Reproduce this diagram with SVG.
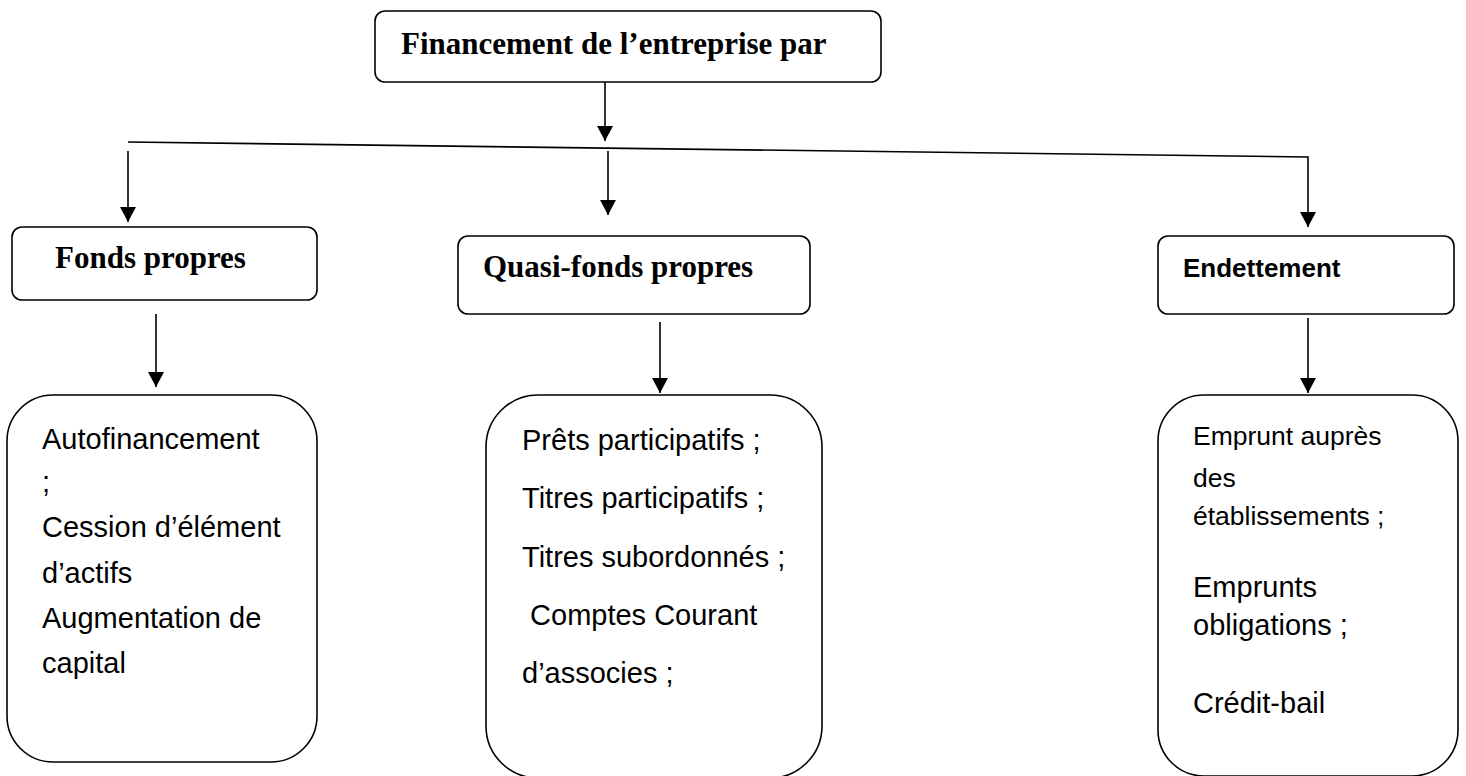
<svg xmlns="http://www.w3.org/2000/svg" width="1466" height="776" viewBox="0 0 1466 776">
<style>
.box{fill:#fff;stroke:#000;stroke-width:1.6}
.hd{font-family:"Liberation Serif","Times New Roman",serif;font-weight:bold;font-size:31px;fill:#000}
.hs{font-family:"Liberation Sans",Arial,sans-serif;font-weight:bold;font-size:26px;fill:#000}
.tx{font-family:"Liberation Sans",Arial,sans-serif;font-size:29px;fill:#000}
.ts{font-family:"Liberation Sans",Arial,sans-serif;font-size:26.5px;fill:#000}
.ln{fill:none;stroke:#000;stroke-width:1.6}
</style>
<defs>
<marker id="ah" markerUnits="userSpaceOnUse" markerWidth="16" markerHeight="16" viewBox="0 0 15 16" refX="15" refY="8" orient="auto">
<path d="M0,0 L15,8 L0,16 z" fill="#000"/>
</marker>
</defs>
<rect width="1466" height="776" fill="#fff"/>
<g id="connectors">
<path class="ln" d="M605,82 L605,141" marker-end="url(#ah)"/>
<path class="ln" d="M128,142 L1308,157 L1308,227" marker-end="url(#ah)"/>
<path class="ln" d="M128,151 L128,222" marker-end="url(#ah)"/>
<path class="ln" d="M608,151 L608,215" marker-end="url(#ah)"/>
<path class="ln" d="M156,314 L156,387" marker-end="url(#ah)"/>
<path class="ln" d="M660,322 L660,393" marker-end="url(#ah)"/>
<path class="ln" d="M1308,318 L1308,393" marker-end="url(#ah)"/>
</g>
<g id="root">
<rect class="box" x="375" y="11" width="506" height="71" rx="10"/>
<text class="hd" x="401" y="54">Financement de l’entreprise par</text>
</g>
<g id="fonds-propres">
<rect class="box" x="12" y="227" width="305" height="73" rx="10"/>
<text class="hd" x="55" y="268">Fonds propres</text>
</g>
<g id="quasi-fonds-propres">
<rect class="box" x="458" y="236" width="352" height="78" rx="10"/>
<text class="hd" x="483" y="277">Quasi-fonds propres</text>
</g>
<g id="endettement">
<rect class="box" x="1158" y="236" width="296" height="78" rx="10"/>
<text class="hs" x="1183" y="277">Endettement</text>
</g>
<g id="fonds-propres-list">
<rect class="box" x="7" y="395" width="310" height="367" rx="46"/>
<text class="tx" x="42" y="449">Autofinancement</text>
<text class="tx" x="42" y="492">;</text>
<text class="tx" x="42" y="537">Cession d’élément</text>
<text class="tx" x="42" y="583">d’actifs</text>
<text class="tx" x="42" y="628">Augmentation de</text>
<text class="tx" x="42" y="673">capital</text>
</g>
<g id="quasi-fonds-propres-list">
<rect class="box" x="486" y="395" width="336" height="383" rx="52"/>
<text class="tx" x="522" y="450">Prêts participatifs ;</text>
<text class="tx" x="522" y="508">Titres participatifs ;</text>
<text class="tx" x="522" y="567">Titres subordonnés ;</text>
<text class="tx" x="522" y="625" xml:space="preserve"> Comptes Courant</text>
<text class="tx" x="522" y="683">d’associes ;</text>
</g>
<g id="endettement-list">
<rect class="box" x="1158" y="395" width="300" height="381" rx="46"/>
<text class="ts" x="1193" y="445">Emprunt auprès</text>
<text class="ts" x="1193" y="487">des</text>
<text class="ts" x="1193" y="525">établissements ;</text>
<text class="tx" x="1193" y="597">Emprunts</text>
<text class="tx" x="1193" y="635">obligations ;</text>
<text class="tx" x="1193" y="713">Crédit-bail</text>
</g>
</svg>
